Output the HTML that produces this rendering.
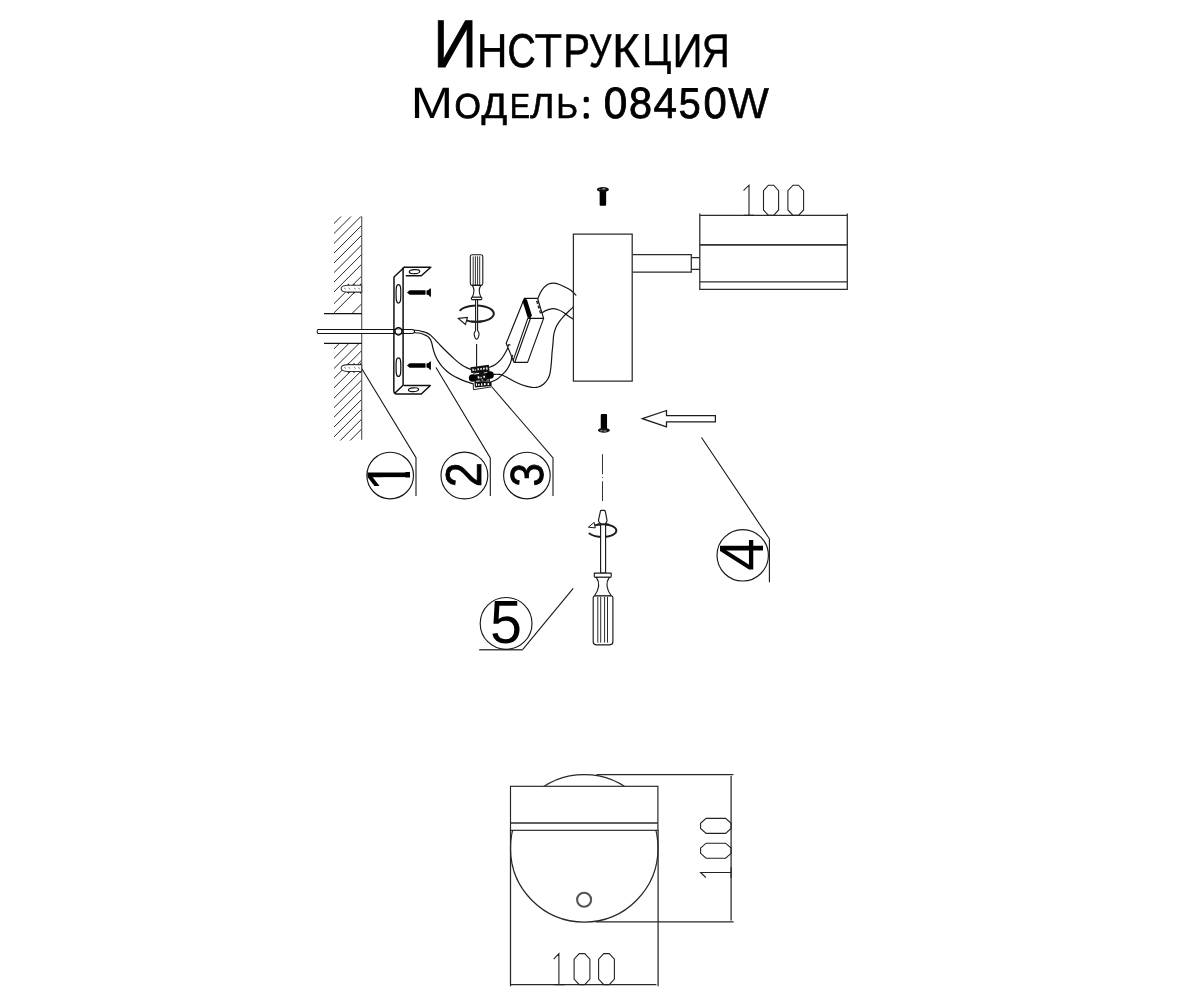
<!DOCTYPE html>
<html lang="ru"><head><meta charset="utf-8"><title>Инструкция — Модель: 08450W</title>
<style>
html,body{margin:0;padding:0;background:#fff}
body{width:1200px;height:1000px;overflow:hidden;position:relative;font-family:"Liberation Sans",sans-serif}
svg{position:absolute;left:0;top:0;display:block;will-change:transform}
svg text{font-family:"Liberation Sans",sans-serif;text-rendering:geometricPrecision}
.k{fill:none;stroke:#1a1a1a;stroke-width:1;stroke-linecap:round;stroke-linejoin:round}
.c{fill:none;stroke:#2b2b2b;stroke-width:1;stroke-linecap:butt;stroke-linejoin:miter}
.w{fill:#fff;stroke:#1a1a1a;stroke-width:1;stroke-linejoin:round}
.b{fill:#000;stroke:none}
</style></head><body>
<svg width="1200" height="1000" viewBox="0 0 1200 1000">
<g id="title">
<text transform="translate(433.13,66.98) scale(0.1521,0.1681)" font-size="400" fill="#000" stroke="#000" stroke-width="5.32" stroke-linejoin="miter">И</text>
<text transform="translate(476.67,67.25) scale(0.1061,0.1192)" font-size="400" fill="#000" stroke="#000" stroke-width="2.67" stroke-linejoin="miter">Н</text>
<text transform="translate(507.57,67.09) scale(0.0975,0.1179)" font-size="400" fill="#000" stroke="#000" stroke-width="6.53" stroke-linejoin="miter">С</text>
<text transform="translate(534.53,67.25) scale(0.1132,0.1192)" font-size="400" fill="#000" stroke="#000" stroke-width="2.58" stroke-linejoin="miter">Т</text>
<text transform="translate(563.24,67.15) scale(0.1010,0.1185)" font-size="400" fill="#000" stroke="#000" stroke-width="4.57" stroke-linejoin="miter">Р</text>
<text transform="translate(588.90,66.99) scale(0.0881,0.1179)" font-size="400" fill="#000" stroke="#000" stroke-width="4.91" stroke-linejoin="miter">У</text>
<text transform="translate(612.05,67.20) scale(0.1203,0.1188)" font-size="400" fill="#000" stroke="#000" stroke-width="3.35" stroke-linejoin="miter">К</text>
<text transform="translate(641.88,65.47) scale(0.0997,0.1127)" font-size="400" fill="#000" stroke="#000" stroke-width="2.83" stroke-linejoin="miter">Ц</text>
<text transform="translate(672.53,67.25) scale(0.1041,0.1192)" font-size="400" fill="#000" stroke="#000" stroke-width="2.69" stroke-linejoin="miter">И</text>
<text transform="translate(701.74,67.15) scale(0.0964,0.1185)" font-size="400" fill="#000" stroke="#000" stroke-width="4.68" stroke-linejoin="miter">Я</text>
</g>
<g id="model">
<text transform="translate(410.83,118.40) scale(0.1271,0.1101)" font-size="400" fill="#000">М</text>
<text transform="translate(454.39,118.16) scale(0.0850,0.0872)" font-size="400" fill="#000" stroke="#000" stroke-width="9.29" stroke-linejoin="miter">О</text>
<text transform="translate(481.42,118.47) scale(0.0952,0.0882)" font-size="400" fill="#000" stroke="#000" stroke-width="6.55" stroke-linejoin="miter">Д</text>
<text transform="translate(509.79,118.10) scale(0.0766,0.0868)" font-size="400" fill="#000" stroke="#000" stroke-width="7.36" stroke-linejoin="miter">Е</text>
<text transform="translate(529.97,118.13) scale(0.0932,0.0870)" font-size="400" fill="#000" stroke="#000" stroke-width="6.66" stroke-linejoin="miter">Л</text>
<text transform="translate(556.27,118.10) scale(0.0833,0.0868)" font-size="400" fill="#000" stroke="#000" stroke-width="7.06" stroke-linejoin="miter">Ь</text>
<clipPath id="cc1"><path d="M-39.06,-136.72 L156.25,-136.72 L156.25,-253.91 L-39.06,-253.91 Z"/></clipPath><text transform="translate(583.58,110.00) scale(0.0499,0.0544)" font-size="400" fill="#000" stroke="#000" stroke-width="65.26" stroke-linejoin="round" clip-path="url(#cc1)">:</text>
<text transform="translate(583.58,117.20) scale(0.0499,0.0514)" font-size="400" fill="#000" stroke="#000" stroke-width="67.12" stroke-linejoin="round">.</text>
<text transform="translate(603.78,118.15) scale(0.1054,0.1089)" font-size="400" fill="#000" stroke="#000" stroke-width="7.93" stroke-linejoin="miter">0</text>
<text transform="translate(628.92,118.15) scale(0.1036,0.1089)" font-size="400" fill="#000" stroke="#000" stroke-width="8.00" stroke-linejoin="miter">8</text>
<text transform="translate(653.48,118.05) scale(0.1052,0.1076)" font-size="400" fill="#000" stroke="#000" stroke-width="6.58" stroke-linejoin="miter">4</text>
<text transform="translate(678.85,118.15) scale(0.0983,0.1077)" font-size="400" fill="#000" stroke="#000" stroke-width="8.26" stroke-linejoin="miter">5</text>
<text transform="translate(703.49,118.15) scale(0.1049,0.1089)" font-size="400" fill="#000" stroke="#000" stroke-width="7.95" stroke-linejoin="miter">0</text>
<text transform="translate(728.36,118.15) scale(0.1079,0.1083)" font-size="400" fill="#000" stroke="#000" stroke-width="4.63" stroke-linejoin="miter">W</text>
</g>
<g id="wall">
<defs><clipPath id="hc"><rect x="334" y="216.5" width="27.7" height="97"/><rect x="334" y="343.4" width="27.7" height="97.2"/></clipPath></defs>
<path clip-path="url(#hc)" d="M330,227.50 L366,191.50 M330,237.50 L366,201.50 M330,247.40 L366,211.40 M330,257.10 L366,221.10 M330,266.90 L366,230.90 M330,276.60 L366,240.60 M330,286.10 L366,250.10 M330,295.90 L366,259.90 M330,307.70 L366,271.70 M330,316.80 L366,280.80 M330,335.50 L366,299.50 M330,352.80 L366,316.80 M330,362.30 L366,326.30 M330,372.50 L366,336.50 M330,382.30 L366,346.30 M330,391.80 L366,355.80 M330,402.20 L366,366.20 M330,411.70 L366,375.70 M330,421.20 L366,385.20 M330,431.10 L366,395.10 M330,440.90 L366,404.90 M330,450.80 L366,414.80 M330,460.70 L366,424.70" fill="none" stroke="#262626" stroke-width="1.0"/>
<path d="M361.7,285.3 L348.6,285.3 C343.6,285.3 341.1,286.8 341.1,288.7 C341.1,290.59999999999997 343.6,292.09999999999997 348.6,292.09999999999997 L361.7,292.09999999999997 Z" fill="#fff" stroke="#3a3a3a" stroke-width="1.05"/>
<path d="M347.2,285.3 L348.4,283.5 L349.59999999999997,285.3 Z M347.2,292.09999999999997 L348.4,293.9 L349.59999999999997,292.09999999999997 Z" fill="#222" stroke="none"/>
<path d="M352.8,285.3 L354.0,283.5 L355.2,285.3 Z M352.8,292.09999999999997 L354.0,293.9 L355.2,292.09999999999997 Z" fill="#222" stroke="none"/>
<path d="M359.40000000000003,285.3 L360.6,283.5 L361.8,285.3 Z M359.40000000000003,292.09999999999997 L360.6,293.9 L361.8,292.09999999999997 Z" fill="#222" stroke="none"/>
<path d="M344.6,287.8 l0.9,1.6" stroke="#6a6a6a" stroke-width="0.9" fill="none"/>
<path d="M348.9,287.8 l0.9,1.6" stroke="#6a6a6a" stroke-width="0.9" fill="none"/>
<path d="M354.4,287.8 l0.9,1.6" stroke="#6a6a6a" stroke-width="0.9" fill="none"/>
<path d="M358.6,287.8 l0.9,1.6" stroke="#6a6a6a" stroke-width="0.9" fill="none"/>
<path d="M361.7,364.6 L348.6,364.6 C343.6,364.6 341.1,366.1 341.1,368.0 C341.1,369.9 343.6,371.4 348.6,371.4 L361.7,371.4 Z" fill="#fff" stroke="#3a3a3a" stroke-width="1.05"/>
<path d="M347.2,364.6 L348.4,362.8 L349.59999999999997,364.6 Z M347.2,371.4 L348.4,373.2 L349.59999999999997,371.4 Z" fill="#222" stroke="none"/>
<path d="M352.8,364.6 L354.0,362.8 L355.2,364.6 Z M352.8,371.4 L354.0,373.2 L355.2,371.4 Z" fill="#222" stroke="none"/>
<path d="M359.40000000000003,364.6 L360.6,362.8 L361.8,364.6 Z M359.40000000000003,371.4 L360.6,373.2 L361.8,371.4 Z" fill="#222" stroke="none"/>
<path d="M344.6,367.1 l0.9,1.6" stroke="#6a6a6a" stroke-width="0.9" fill="none"/>
<path d="M348.9,367.1 l0.9,1.6" stroke="#6a6a6a" stroke-width="0.9" fill="none"/>
<path d="M354.4,367.1 l0.9,1.6" stroke="#6a6a6a" stroke-width="0.9" fill="none"/>
<path d="M358.6,367.1 l0.9,1.6" stroke="#6a6a6a" stroke-width="0.9" fill="none"/>
<path d="M361.7,216.3 L361.7,439.8" fill="none" stroke="#555" stroke-width="1.15"/>
<path d="M324,313.5 L361.9,313.5 M324,343.3 L361.9,343.3" fill="none" stroke="#111" stroke-width="1.25"/>
<path d="M318.2,329.5 L411.8,329.5 Q414.6,329.6 414.6,331.5 Q414.6,333.4 411.8,333.5 L318.2,333.5 Q317.2,333.5 317.2,331.5 Q317.2,329.5 318.2,329.5 Z" fill="#fff" stroke="#111" stroke-width="1.05"/>
</g>
<g id="bracket">
<path fill="none" stroke="#111" stroke-width="1.5" stroke-linejoin="round" stroke-linecap="round" d="M404.3,267.3 L430.8,267.3 L421.3,275.8 L406.3,275.8"/>
<path fill="none" stroke="#111" stroke-width="1.5" stroke-linejoin="round" stroke-linecap="round" d="M404.3,267.3 L394,277 L393.8,391 Q394,394 396.6,394 L421.3,394 L430.3,385.5 L404.2,385.5"/>
<path fill="none" stroke="#111" stroke-width="1.5" stroke-linejoin="round" stroke-linecap="round" d="M403.1,268 L403.1,385.3 L395,393"/>
<path fill="#fff" stroke="#111" stroke-width="1.2" d="M398.45,284.6 C400.9,284.6 400.8,289 400.8,293.8 C400.8,298.6 400.9,303 398.45,303 C396.0,303 396.1,298.6 396.1,293.8 C396.1,289 396.0,284.6 398.45,284.6 Z"/>
<path fill="#fff" stroke="#111" stroke-width="1.2" d="M398.45,357.8 C400.9,357.8 400.8,362.2 400.8,367.1 C400.8,372 400.9,376.4 398.45,376.4 C396.0,376.4 396.1,372 396.1,367.1 C396.1,362.2 396.0,357.8 398.45,357.8 Z"/>
<ellipse fill="#fff" stroke="#111" stroke-width="1.2" cx="414.5" cy="271.7" rx="5.2" ry="2.0" transform="rotate(-4 414.5 271.7)"/>
<ellipse fill="#fff" stroke="#111" stroke-width="1.2" cx="413.5" cy="389.7" rx="5.1" ry="1.9" transform="rotate(-4 413.5 389.7)"/>
<circle cx="398.45" cy="331.35" r="3.55" fill="#fff" stroke="#000" stroke-width="1.45"/>
<path d="M394.8,329.5 L402.2,329.5 M394.8,333.5 L402.2,333.5" stroke="#111" stroke-width="0.6" fill="none" opacity="0.55"/>
</g>
<g id="woodscrews">
<path class="b" d="M407,292.5 L409.6,290.2 L425.2,290.2 L425.2,294.8 L409.6,294.8 Z"/>
<rect x="425" y="290.5" width="2.6" height="4.0" fill="#777"/>
<path class="b" d="M427.0,290.4 Q429.2,290.1 429.9,288.5 L430.9,288.5 L430.9,296.7 L429.9,296.7 Q429.2,294.9 427.0,294.6 Z"/>
<path class="b" d="M407,365.5 L409.6,363.2 L425.2,363.2 L425.2,367.8 L409.6,367.8 Z"/>
<rect x="425" y="363.5" width="2.6" height="4.0" fill="#777"/>
<path class="b" d="M427.0,363.4 Q429.2,363.1 429.9,361.5 L430.9,361.5 L430.9,369.7 L429.9,369.7 Q429.2,367.9 427.0,367.6 Z"/>
</g>
<g id="wires">
<path fill="none" stroke="#141414" stroke-width="1.2" stroke-linecap="round" d="M414.60,330.20 C415.25,330.25 417.32,330.30 418.50,330.50 C419.68,330.70 420.48,331.07 421.70,331.40 C422.92,331.73 424.42,331.95 425.80,332.50 C427.18,333.05 428.47,333.52 430.00,334.70 C431.53,335.88 433.25,337.80 435.00,339.60 C436.75,341.40 438.50,343.43 440.50,345.50 C442.50,347.57 444.75,349.82 447.00,352.00 C449.25,354.18 452.00,356.78 454.00,358.60 C456.00,360.42 457.50,361.70 459.00,362.90 C460.50,364.10 461.67,364.97 463.00,365.80 C464.33,366.63 465.65,367.30 467.00,367.90 C468.35,368.50 470.42,369.15 471.10,369.40"/>
<path fill="none" stroke="#141414" stroke-width="1.2" stroke-linecap="round" d="M414.60,332.70 C415.25,332.75 417.32,332.83 418.50,333.00 C419.68,333.17 420.48,333.30 421.70,333.70 C422.92,334.10 424.65,334.82 425.80,335.40 C426.95,335.98 427.80,336.47 428.60,337.20 C429.40,337.93 430.03,338.67 430.60,339.80 C431.17,340.93 431.55,342.37 432.00,344.00 C432.45,345.63 432.77,347.73 433.30,349.60 C433.83,351.47 434.45,353.40 435.20,355.20 C435.95,357.00 436.70,358.57 437.80,360.40 C438.90,362.23 440.30,364.40 441.80,366.20 C443.30,368.00 445.03,369.70 446.80,371.20 C448.57,372.70 450.45,374.00 452.40,375.20 C454.35,376.40 456.32,377.37 458.50,378.40 C460.68,379.43 463.10,380.50 465.50,381.40 C467.90,382.30 471.67,383.40 472.90,383.80"/>
<path fill="none" stroke="#141414" stroke-width="1.2" stroke-linecap="round" d="M538.10,298.10 C538.45,297.25 539.25,294.75 540.20,293.00 C541.15,291.25 542.40,289.10 543.80,287.60 C545.20,286.10 547.00,284.75 548.60,284.00 C550.20,283.25 551.70,283.05 553.40,283.10 C555.10,283.15 556.90,283.65 558.80,284.30 C560.70,284.95 562.80,286.00 564.80,287.00 C566.80,288.00 568.95,288.95 570.80,290.30 C572.65,291.65 575.05,294.30 575.90,295.10"/>
<path fill="none" stroke="#141414" stroke-width="1.2" stroke-linecap="round" d="M542.00,312.80 C542.80,312.35 545.00,310.80 546.80,310.10 C548.60,309.40 550.90,308.65 552.80,308.60 C554.70,308.55 556.40,309.15 558.20,309.80 C560.00,310.45 561.80,311.40 563.60,312.50 C565.40,313.60 567.35,315.25 569.00,316.40 C570.65,317.55 572.75,318.90 573.50,319.40"/>
<path fill="none" stroke="#141414" stroke-width="1.2" stroke-linecap="round" d="M573.50,306.80 C572.75,307.50 570.65,309.40 569.00,311.00 C567.35,312.60 565.30,314.50 563.60,316.40 C561.90,318.30 560.10,320.50 558.80,322.40 C557.50,324.30 556.65,325.70 555.80,327.80 C554.95,329.90 554.17,332.42 553.70,335.00 C553.23,337.58 553.28,340.25 553.00,343.30 C552.72,346.35 552.28,349.97 552.00,353.30 C551.72,356.63 551.63,359.97 551.30,363.30 C550.97,366.63 550.60,370.63 550.00,373.30 C549.40,375.97 548.75,377.52 547.70,379.30 C546.65,381.08 545.27,382.72 543.70,384.00 C542.13,385.28 540.30,386.45 538.30,387.00 C536.30,387.55 534.47,387.68 531.70,387.30 C528.93,386.92 525.03,385.92 521.70,384.70 C518.37,383.48 514.93,381.62 511.70,380.00 C508.47,378.38 504.53,375.95 502.30,375.00 C500.07,374.05 499.73,374.42 498.30,374.30 C496.87,374.18 494.47,374.30 493.70,374.30"/>
<path fill="none" stroke="#141414" stroke-width="1.2" stroke-linecap="round" d="M488.30,367.70 C489.42,367.20 492.88,366.10 495.00,364.70 C497.12,363.30 499.33,361.20 501.00,359.30 C502.67,357.40 503.88,355.13 505.00,353.30 C506.12,351.47 507.25,349.13 507.70,348.30"/>
<path fill="none" stroke="#141414" stroke-width="1.2" stroke-linecap="round" d="M491.00,382.00 C492.00,381.55 495.12,380.52 497.00,379.30 C498.88,378.08 500.63,376.37 502.30,374.70 C503.97,373.03 505.72,371.08 507.00,369.30 C508.28,367.52 509.28,365.55 510.00,364.00 C510.72,362.45 510.97,361.12 511.30,360.00 C511.63,358.88 511.88,357.75 512.00,357.30"/>
</g>
<g id="driver">
<path fill="#fff" stroke="#141414" stroke-width="1.15" stroke-linejoin="round" d="M524.4,298.3 L537.6,298.3 L543.6,318.4 L527.6,362.4 L514,362.4 L513.2,360.4 L506.2,343.3 Z"/>
<path fill="none" stroke="#141414" stroke-width="1.15" stroke-linecap="round" stroke-linejoin="round" d="M527.8,318.4 L543.6,318.4 M527.8,318.4 L513.2,360.4 M530.3,318.8 L514.9,362"/>
<path class="b" d="M522.6,301.3 L524.6,298.6 L527.0,299.8 L531.8,315.2 L530.4,318.2 L527.6,317.6 Z"/>
<path fill="none" stroke="#161616" stroke-width="1.1" d="M538.3,300.9 l-1.6,0.5 l0.6,1.9 l1.6,-0.5 M539.8,305.7 l-1.6,0.5 l0.6,1.9 l1.6,-0.5 M541.3,310.5 l-1.6,0.5 l0.6,1.9 l1.6,-0.5"/>
<path fill="none" stroke="#141414" stroke-width="1.15" stroke-linecap="round" stroke-linejoin="round" d="M507.6,346.8 l1.2,-2.2 l1.2,0.4 M511.6,357.6 l1.0,-2.2"/>
</g>
<g id="terminal">
<path d="M470.4,367.2 L488.8,364.7 L489.7,371.7 L471.3,373 Z" fill="#111"/>
<path d="M474.4,381.9 L491.5,381.4 L491.6,386.1 L474.9,387.5 Z" fill="#111"/>
<path d="M473.3,383.5 L473.4,389.7 L491.6,386.8" fill="none" stroke="#111" stroke-width="0.9"/>
<path d="M473.4,372.6 L489.5,371.5 L490.0,381.6 L474.6,382.1 Z" fill="#111"/>
<circle cx="472.6" cy="378" r="3.8" fill="#000"/>
<circle cx="490.1" cy="375" r="3.8" fill="#000"/>
<rect x="472.3" y="368.6" width="1.3" height="2.6" rx="0.5" fill="#fff" transform="rotate(-6 472.3 368.6)"/>
<rect x="474.6" y="369.3" width="1.2" height="1.6" rx="0.5" fill="#fff" transform="rotate(-6 474.6 369.3)"/>
<rect x="477.3" y="368.2" width="1.4" height="2.2" rx="0.5" fill="#fff" transform="rotate(-6 477.3 368.2)"/>
<rect x="480.2" y="368.0" width="1.5" height="2.0" rx="0.5" fill="#fff" transform="rotate(-6 480.2 368.0)"/>
<rect x="483.0" y="367.7" width="1.6" height="2.0" rx="0.5" fill="#fff" transform="rotate(-6 483.0 367.7)"/>
<rect x="486.0" y="367.2" width="1.4" height="2.6" rx="0.5" fill="#fff" transform="rotate(-6 486.0 367.2)"/>
<rect x="473.9" y="373.5" width="5.2" height="0.95" rx="0.5" fill="#fff" transform="rotate(-6 473.9 373.5)"/>
<rect x="483.6" y="372.6" width="3.8" height="0.8" rx="0.5" fill="#fff" transform="rotate(-6 483.6 372.6)"/>
<rect x="477.6" y="376.4" width="1.7" height="2.2" rx="0.5" fill="#fff" transform="rotate(-6 477.6 376.4)"/>
<rect x="480.4" y="376.8" width="1.2" height="1.7" rx="0.5" fill="#fff" transform="rotate(-6 480.4 376.8)"/>
<rect x="483.2" y="375.8" width="1.7" height="2.0" rx="0.5" fill="#fff" transform="rotate(-6 483.2 375.8)"/>
<rect x="476.0" y="380.9" width="4.0" height="0.8" rx="0.5" fill="#fff" transform="rotate(-6 476.0 380.9)"/>
<rect x="481.4" y="379.6" width="1.8" height="1.0" rx="0.5" fill="#fff" transform="rotate(-6 481.4 379.6)"/>
<rect x="486.4" y="379.8" width="3.0" height="0.75" rx="0.5" fill="#fff" transform="rotate(-6 486.4 379.8)"/>
<rect x="475.8" y="383.4" width="1.2" height="2.6" rx="0.5" fill="#fff" transform="rotate(-6 475.8 383.4)"/>
<rect x="478.0" y="383.8" width="1.6" height="2.0" rx="0.5" fill="#fff" transform="rotate(-6 478.0 383.8)"/>
<rect x="481.0" y="383.4" width="1.2" height="2.6" rx="0.5" fill="#fff" transform="rotate(-6 481.0 383.4)"/>
<rect x="483.8" y="383.2" width="1.8" height="2.0" rx="0.5" fill="#fff" transform="rotate(-6 483.8 383.2)"/>
<rect x="487.4" y="383.2" width="1.6" height="2.0" rx="0.5" fill="#fff" transform="rotate(-6 487.4 383.2)"/>
</g>
<g id="sd1">
<path fill="none" stroke="#1e1e1e" stroke-width="2.0" stroke-linecap="round" d="M460.3,310.2 A17.6,8.1 0 1 1 467.0,320.6"/>
<path fill="#fff" stroke="#181818" stroke-width="1.1" stroke-linejoin="round" d="M475.6,299.4 L475.6,330.4 L474.2,333.0 Q473.9,335 474.8,337 L475.5,338.6 Q476.6,339.6 477.7,338.6 L478.4,337 Q479.3,335 479.0,333.0 L477.6,330.4 L477.6,299.4 Z"/>
<path fill="none" stroke="#1e1e1e" stroke-width="2.0" stroke-linecap="round" d="M471.5,321.45 Q476.5,322.0 481.5,321.45"/>
<path d="M458.3,318.4 L467.4,317.4 L465.5,324.5 Z" fill="#fff" stroke="#1a1a1a" stroke-width="1.1" stroke-linejoin="miter"/>
<path fill="#fff" stroke="#181818" stroke-width="1.1" stroke-linejoin="round" d="M472.3,254.8 L480.8,254.8 Q482.8,254.8 482.8,256.8 L482.8,283.4 Q482.8,285.2 481,285.4 L472.1,285.4 Q470.3,285.2 470.3,283.4 L470.3,256.8 Q470.3,254.8 472.3,254.8 Z"/>
<path d="M473.2,256.4 V285 M475.4,256.2 V285 M477.6,256.2 V285 M479.7,256.4 V285" fill="none" stroke="#2a2a2a" stroke-width="0.95"/>
<path fill="#fff" stroke="#181818" stroke-width="1.1" stroke-linejoin="round" d="M472.3,285.4 C474.6,288.6 474.2,293 472.2,297.4 L481,297.4 C479,293 478.6,288.6 480.9,285.4 Z"/>
<rect fill="#fff" stroke="#181818" stroke-width="1.1" stroke-linejoin="round" x="471.4" y="297.3" width="10.4" height="2.3" rx="0.6"/>
<path d="M476.6,344 L476.6,366.4" fill="none" stroke="#141414" stroke-width="1.1"/>
</g>
<g id="fixture">
<path fill="none" stroke="#2a2a2a" stroke-width="1.25" stroke-linejoin="miter" d="M573.4,234 L632.2,234 L632.2,381 L573.4,381 Z"/>
<path fill="none" stroke="#2a2a2a" stroke-width="1.25" stroke-linejoin="miter" d="M632.3,254.7 L691.3,254.7 L691.3,272.2 L632.3,272.2"/>
<path fill="none" stroke="#2a2a2a" stroke-width="1.25" stroke-linejoin="miter" d="M691.3,257.7 L699.7,257.7 M691.3,269.4 L699.7,269.4"/>
<path fill="none" stroke="#2a2a2a" stroke-width="1.25" stroke-linejoin="miter" d="M699.8,213.6 L699.8,289.4 L847.3,289.4 L847.3,213.6 M699.8,215.4 L847.3,215.4 M699.8,244.8 L847.3,244.8 M699.8,281.8 L847.3,281.8"/>
<path d="M699.8,244.8 L847.3,244.8" fill="none" stroke="#2b2b2b" stroke-width="1.2"/>
<path d="M743.5,190.6 L749.0,185.2 L749.0,215.4 M743.9,215.4 L754.1,215.4 M768.41,185.20 L773.69,185.20 L778.60,190.64 L778.60,209.96 L773.69,215.40 L768.41,215.40 L763.50,209.96 L763.50,190.64 Z M793.00,185.20 L798.50,185.20 L803.60,190.64 L803.60,209.96 L798.50,215.40 L793.00,215.40 L787.90,209.96 L787.90,190.64 Z" fill="none" stroke="#222" stroke-width="1.1" stroke-linejoin="miter"/>
</g>
<g id="mscrews">
<rect x="599.65" y="190.2" width="6.5" height="15.6" rx="1" class="b"/>
<ellipse cx="602.9" cy="189.5" rx="6.0" ry="2.45" fill="#0c0c0c"/>
<ellipse cx="603.6999999999999" cy="188.89999999999998" rx="2.0" ry="0.7" fill="#b0b0b0"/>
<ellipse cx="599.6999999999999" cy="189.5" rx="1.0" ry="0.5" fill="#777"/>
<rect x="600.75" y="414.1" width="6.3" height="15.2" rx="1" class="b"/>
<ellipse cx="603.9" cy="430.3" rx="5.85" ry="2.4" fill="#111"/>
<path d="M600.3,430.8 h2.2 M603.5,431.0 h3.0" stroke="#ddd" stroke-width="0.8" fill="none"/>
</g>
<path id="arrow" d="M642.4,418.7 L666.5,410.5 L666.5,415.5 L715.4,415.5 L715.4,421.8 L666.5,421.8 L666.5,426.8 Z" fill="#fff" stroke="#1c1c1c" stroke-width="1.25" stroke-linejoin="miter"/>
<g id="leaders">
<path fill="none" stroke="#181818" stroke-width="1.1" stroke-linejoin="miter" d="M362,369 L416,457.6 L416,496"/>
<path fill="none" stroke="#181818" stroke-width="1.1" stroke-linejoin="miter" d="M436,367.5 L490.3,457.9 L490.3,496.1"/>
<path fill="none" stroke="#181818" stroke-width="1.1" stroke-linejoin="miter" d="M491.5,386.5 L553,457.9 L553,496.1"/>
<path fill="none" stroke="#181818" stroke-width="1.1" stroke-linejoin="miter" d="M701.5,437.5 L769.4,538.8 L769.4,582.2"/>
<path fill="none" stroke="#181818" stroke-width="1.1" stroke-linejoin="miter" d="M573.2,588.4 L522.6,649.7"/>
<path d="M479.2,649.7 L522.8,649.7" fill="none" stroke="#444" stroke-width="1.4"/>
</g>
<g id="balloons">
<circle fill="none" stroke="#181818" stroke-width="1.15" cx="390.2" cy="475.5" r="23.3"/>
<circle fill="none" stroke="#181818" stroke-width="1.15" cx="464.4" cy="475.5" r="23.4"/>
<circle fill="none" stroke="#181818" stroke-width="1.15" cx="526.9" cy="475.5" r="23.3"/>
<circle fill="none" stroke="#181818" stroke-width="1.15" cx="742.7" cy="555.3" r="25.7"/>
<circle fill="none" stroke="#181818" stroke-width="1.15" cx="506.1" cy="623.4" r="25.9"/>
<clipPath id="c1"><path d="M98.63,3.91 L137.89,3.91 L137.89,-279.30 L29.30,-279.30 L29.30,-175.78 L98.63,-175.78 Z"/></clipPath><text transform="translate(409.80,491.13) rotate(-90) scale(0.1385,0.1544)" font-size="400" fill="#000" clip-path="url(#c1)">1</text>
<text transform="translate(481.40,487.16) rotate(-90) scale(0.1125,0.1264)" font-size="400" fill="#000" stroke="#000" stroke-width="6.71" stroke-linejoin="miter">2</text>
<text transform="translate(542.94,486.51) rotate(-90) scale(0.1055,0.1165)" font-size="400" fill="#000" stroke="#000" stroke-width="7.22" stroke-linejoin="miter">3</text>
<text transform="translate(762.60,570.74) rotate(-90) scale(0.1459,0.1563)" font-size="400" fill="#000">4</text>
<text transform="translate(489.89,643.20) scale(0.1440,0.1526)" font-size="400" fill="#000">5</text>
</g>
<path d="M602.5,454.2 L602.5,474.3 M602.5,477.1 L602.5,477.9 M602.5,481.3 L602.5,501" fill="none" stroke="#1c1c1c" stroke-width="0.9"/>
<g id="sd2">
<path fill="none" stroke="#1e1e1e" stroke-width="1.9" stroke-linecap="round" d="M589.4,533.5 C592.5,535.8 597.5,537 603,537 C610.4,537 616.4,534.1 616.4,530.6 C616.4,527.1 610.4,524.2 603,524.2 C599.8,524.2 597,524.6 594.9,525.4"/>
<path fill="#fff" stroke="#1a1a1a" stroke-width="1.15" stroke-linejoin="round" d="M601.4,510.3 L604.2,510.3 Q605.1,510.3 605.3,511.3 L607,520.2 Q607.1,521.6 606.2,522.6 L605.6,523.6 L605.6,573.1 L600.6,573.1 L600.6,523.6 L599.6,522.6 Q598.4,521.6 598.5,520.2 L600.4,511.3 Q600.6,510.3 601.4,510.3 Z"/>
<path d="M602.9,522.5 L602.9,572.5" fill="none" stroke="#fff" stroke-width="0.1"/>
<path fill="none" stroke="#1e1e1e" stroke-width="1.9" stroke-linecap="round" d="M598.2,524.5 Q603,523.95 608,524.5"/>
<path d="M588.4,527.2 L594.2,522.4 L595.3,527.9 Z" fill="#fff" stroke="#1a1a1a" stroke-width="1.0" stroke-linejoin="miter"/>
<path fill="#fff" stroke="#1a1a1a" stroke-width="1.15" stroke-linejoin="round" d="M594.3,573.1 L611.2,573.1 L611.2,576.1 Q611.1,577.3 610.2,577.3 L595.3,577.3 Q594.4,577.3 594.3,576.1 Z"/>
<path fill="#fff" stroke="#1a1a1a" stroke-width="1.15" stroke-linejoin="round" d="M596.2,577.2 C599.6,582 599.8,588.5 594.4,596 L611.4,596 C605.8,588.5 606,582 609.4,577.2 Z"/>
<path fill="#fff" stroke="#1a1a1a" stroke-width="1.15" stroke-linejoin="round" d="M594.8,595.8 L611.4,595.8 Q612.9,596 612.9,597.8 L612.9,641.8 Q612.9,644.8 609.9,644.8 L596.2,644.8 Q593.2,644.8 593.2,641.8 L593.2,597.8 Q593.2,596 594.8,595.8 Z"/>
<path d="M597.8,596.9 V642.6 M600.7,596.9 V642.6 M604.6,596.9 V642.6 M607.5,596.9 V642.6" fill="none" stroke="#2a2a2a" stroke-width="1.0"/>
</g>
<g id="frontview">
<circle fill="none" stroke="#282828" stroke-width="1.25" stroke-linejoin="miter" cx="584.25" cy="848.3" r="73.75"/>
<rect x="510.5" y="786.3" width="147.4" height="44" fill="#fff" stroke="#242424" stroke-width="1.15"/>
<path d="M510.5,823.1 L657.9,823.1" fill="none" stroke="#2b2b2b" stroke-width="1.5"/>
<circle cx="584.1" cy="899.7" r="7.0" fill="none" stroke="#555" stroke-width="2.1"/>
<path fill="none" stroke="#282828" stroke-width="1.25" stroke-linejoin="miter" d="M596.5,774.5 L733.4,774.5 M595.5,921.9 L733.6,921.9 M731.1,776 L731.1,920.4"/>
<path fill="none" stroke="#282828" stroke-width="1.25" stroke-linejoin="miter" d="M510.5,830 L510.5,986.2 M658.1,830 L658.1,986.2 M510.5,984.6 L656.4,984.6"/>
<path d="M553.7,959.2 L558.9,953.6 L558.9,984.6 M554.2,984.6 L564.6,984.6 M579.24,953.60 L584.76,953.60 L589.90,959.18 L589.90,979.02 L584.76,984.60 L579.24,984.60 L574.10,979.02 L574.10,959.18 Z M603.74,953.60 L609.26,953.60 L614.40,959.18 L614.40,979.02 L609.26,984.60 L603.74,984.60 L598.60,979.02 L598.60,959.18 Z" fill="none" stroke="#222" stroke-width="1.1" stroke-linejoin="miter"/>
<path d="M705.8,877.5 L700.6,872.5 L731.1,872.5 M731.1,867.3 L731.1,877.9 M700.60,823.27 L706.09,818.40 L725.61,818.40 L731.10,823.27 L731.10,828.52 L725.61,833.40 L706.09,833.40 L700.60,828.52 Z M700.60,848.08 L706.09,843.20 L725.61,843.20 L731.10,848.08 L731.10,853.33 L725.61,858.20 L706.09,858.20 L700.60,853.33 Z" fill="none" stroke="#222" stroke-width="1.1" stroke-linejoin="miter"/>
</g>
</svg>
</body></html>
